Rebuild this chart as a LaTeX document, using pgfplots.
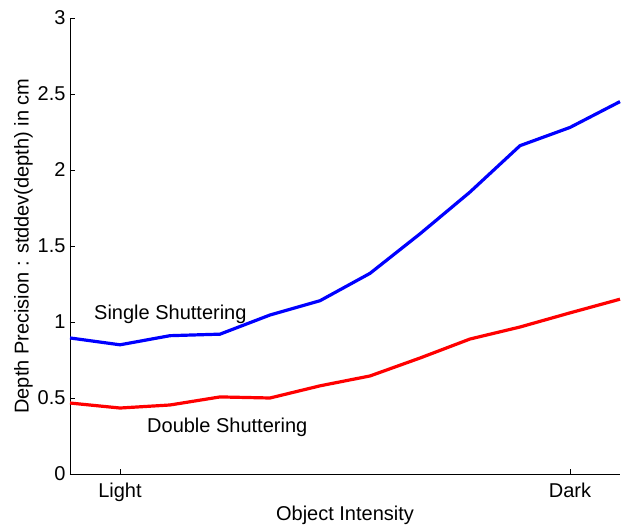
\documentclass[border=0pt]{standalone}
\usepackage{pgfplots}
\pgfplotsset{compat=1.18}
\usepackage{fontspec}
\setmainfont{Liberation Sans}

\begin{document}
\begin{tikzpicture}
\begin{axis}[
    scale only axis, width=550pt, height=456pt,
    xmin=1, xmax=12, ymin=0, ymax=3,
    axis lines=left, axis line style={-, line width=0.8pt},
    tick style={black, line width=0.6pt}, tick align=inside,
    major tick length=5pt,
    xtick={2,11}, xticklabels={Light,Dark},
    ytick={0,0.5,1,1.5,2,2.5,3},
    yticklabels={0,0.5,1,1.5,2,2.5,3},
    ticklabel style={font=\fontsize{20}{24}\selectfont},
    label style={font=\fontsize{20}{24}\selectfont},
    xticklabel style={yshift=-5pt},
    yticklabel style={xshift=-1pt},
    xlabel={Object Intensity}, ylabel={Depth Precision : stddev(depth) in cm},
    xlabel style={yshift=2pt}, ylabel style={yshift=-2pt},
    clip=false,
]
\addplot[blue, line width=3.2pt] coordinates {
 (1,0.895) (2,0.85) (3,0.91) (4,0.92) (5,1.046) (6,1.14)
 (7,1.32) (8,1.58) (9,1.855) (10,2.16) (11,2.28) (12,2.45)};
\addplot[red, line width=3.2pt] coordinates {
 (1,0.467) (2,0.434) (3,0.454) (4,0.507) (5,0.50) (6,0.58)
 (7,0.645) (8,0.763) (9,0.888) (10,0.967) (11,1.06) (12,1.15)};
\node[anchor=west, inner sep=0pt, font=\fontsize{20}{24}\selectfont] at (axis cs:1.48,1.053) {Single Shuttering};
\node[anchor=west, inner sep=0pt, font=\fontsize{20}{24}\selectfont] at (axis cs:2.54,0.309) {Double Shuttering};
\end{axis}
\pgfresetboundingbox
\path[use as bounding box] (current axis.south west) ++(-70pt,-51pt) rectangle ++(622pt,525pt);
\end{tikzpicture}
\end{document}
